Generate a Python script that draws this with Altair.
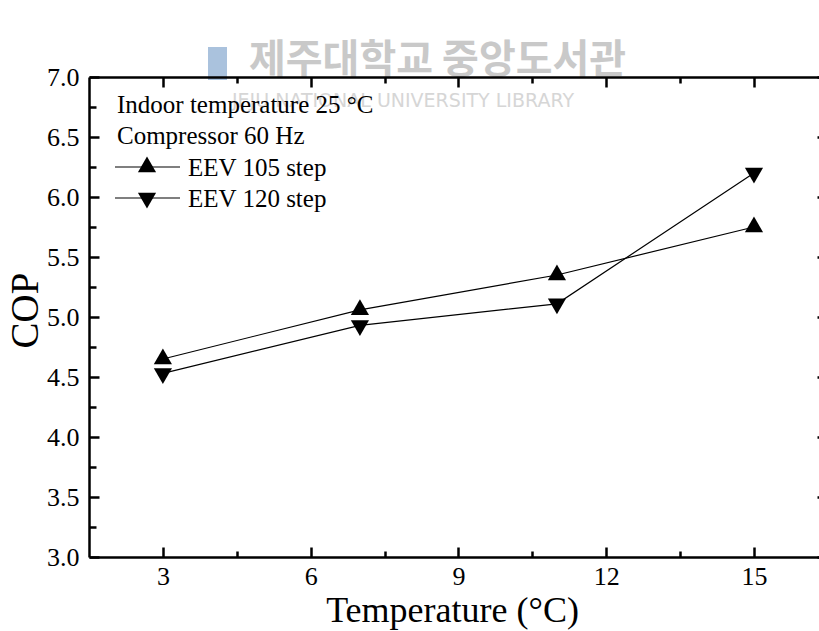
import altair as alt
import pandas as pd

# ---- data ----
temps = [3, 7, 11, 15]
cop_105 = [4.65, 5.06, 5.35, 5.75]
cop_120 = [4.53, 4.93, 5.11, 6.20]
series = ["EEV 105 step", "EEV 120 step"]
# centroid-centred triangles (up / down), as drawn by the original software
shapes = ["M0,-1.155L-1,0.577L1,0.577Z", "M0,1.155L-1,-0.577L1,-0.577Z"]

x_major = [3, 6, 9, 12, 15]
x_minor = [4.5, 7.5, 10.5, 13.5]
y_major = [3.0, 3.5, 4.0, 4.5, 5.0, 5.5, 6.0, 6.5, 7.0]
y_minor = [3.25, 3.75, 4.25, 4.75, 5.25, 5.75, 6.25, 6.75]

notes = ["Indoor temperature 25 °C", "Compressor 60 Hz"]
x_title = "Temperature (°C)"
y_title = "COP"
wm_korean = ["제주대학교 중앙도서관"]
wm_english = ["JEJU NATIONAL UNIVERSITY LIBRARY"]

rows = []
for s, vals in zip(series, [cop_105, cop_120]):
    for t, v in zip(temps, vals):
        rows.append({"temp": t, "cop": v, "series": s})
df = pd.DataFrame(rows)

SERIF = "Liberation Serif"
W, H = 730, 480
xs = alt.Scale(domain=[1.5, 16.32], nice=False, zero=False)
ys = alt.Scale(domain=[3.0, 7.0], nice=False, zero=False)


def ax(orient, **kw):
    base = dict(orient=orient, grid=False, domain=False, labels=False,
                ticks=False, title=None, zindex=1)
    base.update(kw)
    return alt.Axis(**base)


def tick_axis(orient, values, size, offset):
    return ax(orient, ticks=True, values=values, tickSize=size,
              offset=offset, tickWidth=2.5, tickColor="black")


frame = dict(domain=True, domainColor="black", domainWidth=2.5)

bottom_main = ax("bottom", labels=True, values=x_major, labelFont=SERIF,
                 labelFontSize=26, labelColor="black", labelPadding=6,
                 title=x_title, titleFont=SERIF, titleFontSize=36,
                 titleFontWeight="normal", titleColor="black",
                 titleX=W / 2 - 2, titleY=64, titleAlign="center",
                 titleBaseline="alphabetic", **frame)
left_main = ax("left", labels=True, values=y_major, format=".1f",
               labelFont=SERIF, labelFontSize=26, labelColor="black",
               labelPadding=10, title=y_title, titleFont=SERIF,
               titleFontSize=39, titleFontWeight="normal", titleColor="black",
               titleAngle=270, titleX=-52, titleY=H / 2 - 7,
               titleAlign="center", titleBaseline="alphabetic", **frame)
top_main = ax("top", **frame)

x_axes = [
    tick_axis("bottom", x_major, 10, -10),
    tick_axis("bottom", x_minor, 6, -6),
    top_main,
    tick_axis("top", x_major, 10, -10),
    tick_axis("top", x_minor, 6, -6),
]
y_axes = [
    tick_axis("left", y_major, 10, -10),
    tick_axis("left", y_minor, 7, -7),
    tick_axis("right", y_major, 2, -2),
]

layers = []

# watermark (behind everything)
layers.append(
    alt.Chart(pd.DataFrame({"t": wm_korean})).mark_text(
        font="Noto Sans CJK KR", fontSize=40, color="#c9c9c9",
        align="left", baseline="middle", fontWeight="bold"
    ).encode(x=alt.value(160), y=alt.value(-16), text="t:N")
)
layers.append(
    alt.Chart(pd.DataFrame({"t": wm_english})).mark_text(
        font="DejaVu Sans", fontSize=19, color="#d6d6d6",
        align="left", baseline="middle"
    ).encode(x=alt.value(143), y=alt.value(24), text="t:N")
)
layers.append(
    alt.Chart(pd.DataFrame({"t": wm_korean})).mark_rect(
        color="#aac2dd"
    ).encode(x=alt.value(119), x2=alt.value(138), y=alt.value(-30), y2=alt.value(3))
)

# data lines
layers.append(
    alt.Chart(df).mark_line(color="black", strokeWidth=1.2).encode(
        x=alt.X("temp:Q", scale=xs, axis=bottom_main),
        y=alt.Y("cop:Q", scale=ys, axis=left_main),
        detail="series:N",
    )
)
# data markers
layers.append(
    alt.Chart(df).mark_point(filled=True, size=330, color="black", opacity=1).encode(
        x=alt.X("temp:Q", scale=xs, axis=None),
        y=alt.Y("cop:Q", scale=ys, axis=None),
        shape=alt.Shape("series:N", scale=alt.Scale(domain=series, range=shapes),
                        legend=None),
    )
)

# extra axes (frame + inward ticks)
for a in x_axes:
    layers.append(
        alt.Chart(df).mark_point(opacity=0).encode(
            x=alt.X("temp:Q", scale=xs, axis=a),
            y=alt.Y("cop:Q", scale=ys, axis=None),
        )
    )
for a in y_axes:
    layers.append(
        alt.Chart(df).mark_point(opacity=0).encode(
            x=alt.X("temp:Q", scale=xs, axis=None),
            y=alt.Y("cop:Q", scale=ys, axis=a),
        )
    )

# legend notes
note_y = [36, 67]
for txt, yy in zip(notes, note_y):
    layers.append(
        alt.Chart(pd.DataFrame({"t": [txt]})).mark_text(
            font=SERIF, fontSize=25, color="black", align="left",
            baseline="alphabetic"
        ).encode(x=alt.value(28), y=alt.value(yy), text="t:N")
    )

# legend entries
leg_line_y = [90, 121]
for name, shp, ly in zip(series, shapes, leg_line_y):
    ldf = pd.DataFrame({"t": [name]})
    layers.append(
        alt.Chart(ldf).mark_rule(color="black", strokeWidth=1.2).encode(
            x=alt.value(26), x2=alt.value(91), y=alt.value(ly)
        )
    )
    layers.append(
        alt.Chart(ldf).mark_point(filled=True, size=330, color="black",
                                  opacity=1, shape=shp).encode(
            x=alt.value(58), y=alt.value(ly)
        )
    )
    layers.append(
        alt.Chart(ldf).mark_text(
            font=SERIF, fontSize=25, color="black", align="left",
            baseline="alphabetic"
        ).encode(x=alt.value(99), y=alt.value(ly + 9), text="t:N")
    )

chart = alt.layer(*layers).resolve_axis(
    x="independent", y="independent"
).properties(
    width=W, height=H, autosize="none",
    padding={"left": 89, "top": 77, "right": 0, "bottom": 74},
).configure_view(stroke=None).configure(background="white")

chart.save("out.html", embed_options={"renderer": "svg", "actions": False})
